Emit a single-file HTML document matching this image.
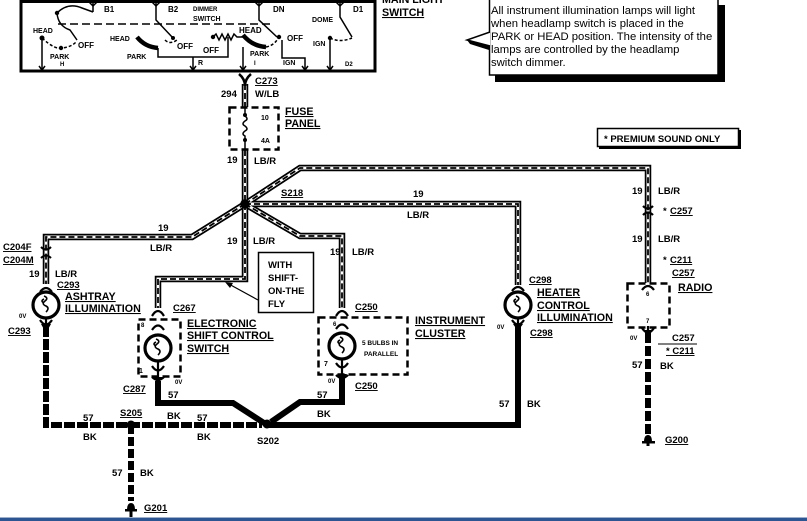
<!DOCTYPE html>
<html><head><meta charset="utf-8"><style>
html,body{margin:0;padding:0;background:#fff;width:807px;height:521px;overflow:hidden}
svg{display:block}
text{font-family:"Liberation Sans",Arial,sans-serif;font-weight:bold;fill:#000}
.u{text-decoration:underline}
.s{font-size:8px}
.t{font-size:6px}
.l{font-size:9.5px}
.c{font-size:10.7px}
.n{font-size:11.3px;font-weight:normal}
</style></head><body>
<svg width="807" height="521" viewBox="0 0 807 521" xmlns="http://www.w3.org/2000/svg">
<defs>
<path id="wA" d="M245 84 V107"/>
<path id="wB" d="M245 150 V204"/>
<path id="wC" d="M245 204 L300 168 H648 V283"/>
<path id="wD" d="M245 204 H518 V285"/>
<path id="wE" d="M245 204 L300 236 H342 V308"/>
<path id="wF" d="M245 204 V279 H158 V308"/>
<path id="wG" d="M245 204 L192 237 H46 V284"/>
</defs>
<rect x="0" y="0" width="807" height="521" fill="#fff"/>

<!-- MAIN LIGHT SWITCH box -->
<rect x="21" y="1.5" width="354" height="69.5" fill="none" stroke="#000" stroke-width="3"/>
<g fill="none" stroke="#000" stroke-width="1.5">
<path d="M58 24 H272" stroke-dasharray="8 4"/>
<path d="M57 13 Q68 2 82 8 L93 12 M93 3 V12"/>
<path d="M57 13 Q58 26 70 30 L77 40"/>
<path d="M42 38 Q55 50 62 48 Q72 47 77 41" stroke-dasharray="3 2"/>
<path d="M42 38 V70"/>
<path d="M156 3 V20 L173 38"/>
<path d="M165 40 Q170 45 177 40" stroke-dasharray="3 2"/>
<path d="M137 37 Q145 47 158 48" stroke-width="4.5"/>
<path d="M158 48 V57 H228 V37 M193 57 V70"/>
<path d="M213 37 l3 -3 l3 6 l3 -6 l3 6 l3 -6 l3 6 l3 -6 l3 3 L243 37"/>
<path d="M243 35 Q252 46 266 47" stroke-width="4.5"/>
<path d="M243 47 V70"/>
<path d="M259 3 V20 L277 37"/>
<path d="M266 47 Q275 45 278 38" stroke-dasharray="3 2"/>
<path d="M282 40 V58 H305 V70"/>
<path d="M340 3 V17 L352 37"/>
<path d="M330 38 Q340 43 352 38" stroke-dasharray="3 2"/>
<path d="M330 38 V70"/>
<path d="M89 2 L93 6 L97 2 M152 2 L156 6 L160 2 M255 2 L259 6 L263 2 M336 2 L340 6 L344 2"/>
<path d="M39 66 L42 70 L45 66 M190 66 L193 70 L196 66 M240 66 L243 70 L246 66 M302 66 L305 70 L308 66 M327 66 L330 70 L333 66"/>
</g>
<g fill="#000">
<circle cx="57" cy="13" r="2.2"/><circle cx="42" cy="38" r="2.5"/><circle cx="61" cy="48" r="2.2"/>
<circle cx="213" cy="37" r="2.2"/><circle cx="279" cy="37" r="2.2"/><circle cx="330" cy="38" r="2.2"/>
<circle cx="173" cy="38" r="2"/>
</g>
<text class="s" x="104" y="12">B1</text>
<text class="s" x="168" y="12">B2</text>
<text class="t" x="193" y="11">DIMMER</text>
<text class="s" x="193" y="21" style="font-size:7px">SWITCH</text>
<text class="s" x="273" y="12">DN</text>
<text class="s" x="353" y="12">D1</text>
<text class="s" x="312" y="22" style="font-size:7px">DOME</text>
<text class="s" x="33" y="33" style="font-size:7px">HEAD</text>
<text class="s" x="78" y="48">OFF</text>
<text class="s" x="50" y="59" style="font-size:7px">PARK</text>
<text class="t" x="60" y="66">H</text>
<text class="s" x="110" y="41" style="font-size:7px">HEAD</text>
<text class="s" x="127" y="59" style="font-size:7px">PARK</text>
<text class="s" x="177" y="49">OFF</text>
<text class="s" x="198" y="65" style="font-size:7px">R</text>
<text class="s" x="203" y="53">OFF</text>
<text class="s" x="239" y="33">HEAD</text>
<text class="s" x="250" y="56" style="font-size:7px">PARK</text>
<text class="t" x="254" y="65">I</text>
<text class="s" x="287" y="41">OFF</text>
<text class="s" x="283" y="65" style="font-size:7px">IGN</text>
<text class="s" x="313" y="46" style="font-size:7px">IGN</text>
<text class="t" x="345" y="66">D2</text>

<text class="c" x="382" y="3">MAIN LIGHT</text>
<text class="c u" x="382" y="16">SWITCH</text>

<!-- Note box -->
<rect x="718" y="5" width="7" height="77" fill="#000"/>
<rect x="495" y="75" width="230" height="7" fill="#000"/>
<rect x="489.5" y="-2" width="228.5" height="77" fill="#fff" stroke="#000" stroke-width="1.5"/>
<path d="M489 44 L467 40 L470 44 L489 50 Z" fill="#000"/>
<path d="M490 32 L467 40 L490 46" fill="#fff" stroke="#000" stroke-width="1.5"/>
<text class="n" x="491" y="14">All instrument illumination lamps will light</text>
<text class="n" x="491" y="27">when headlamp switch is placed in the</text>
<text class="n" x="491" y="40">PARK or HEAD position. The intensity of the</text>
<text class="n" x="491" y="53">lamps are controlled by the headlamp</text>
<text class="n" x="491" y="66">switch dimmer.</text>

<!-- Premium box -->
<rect x="599" y="130" width="142" height="19" fill="#000"/>
<rect x="597.5" y="128.5" width="141" height="18" fill="#fff" stroke="#000" stroke-width="1.5"/>
<text class="l" x="604" y="142">* PREMIUM SOUND ONLY</text>

<!-- Striped wires -->
<g fill="none" stroke="#000" stroke-width="6.5">
<use href="#wA"/><use href="#wB"/><use href="#wC"/><use href="#wD"/><use href="#wE"/><use href="#wF"/><use href="#wG"/>
</g>
<g fill="none" stroke="#fff" stroke-width="3">
<use href="#wA"/><use href="#wB"/><use href="#wC"/><use href="#wD"/><use href="#wE"/><use href="#wF"/><use href="#wG"/>
</g>
<g fill="none" stroke="#000" stroke-width="1.8" stroke-dasharray="6 3">
<use href="#wA"/><use href="#wB"/><use href="#wC"/><use href="#wD"/><use href="#wE"/><use href="#wF"/><use href="#wG"/>
</g>

<!-- Fuse panel -->
<rect x="229.5" y="107.5" width="49" height="42" fill="#fff" stroke="#000" stroke-width="2.5" stroke-dasharray="7 4"/>
<g fill="none" stroke="#000" stroke-width="1.5">
<path d="M245 108 V116 q4 3 0 5 q-4 3 0 5 q4 3 0 5 q-4 3 0 5 V149"/>
</g>
<circle cx="245" cy="115" r="2" fill="#000"/><circle cx="245" cy="140" r="2" fill="#000"/>
<text class="t" x="261" y="120" style="font-size:7px">10</text>
<text class="t" x="261" y="143" style="font-size:7px">4A</text>
<text class="c u" x="285" y="115">FUSE</text>
<text class="c u" x="285" y="127">PANEL</text>

<!-- C273 -->
<path d="M239 74 Q245 79 245 86 M251 74 Q245 79 245 86" fill="none" stroke="#000" stroke-width="2.5"/>
<text class="l u" x="255" y="84">C273</text>
<text class="l" x="221" y="97">294</text>
<text class="l" x="255" y="97">W/LB</text>
<text class="l" x="227" y="163">19</text>
<text class="l" x="254" y="164">LB/R</text>

<!-- S218 -->
<circle cx="245" cy="204" r="4.8" fill="#000"/>
<text class="l u" x="281" y="196">S218</text>
<text class="l" x="413" y="197">19</text>
<text class="l" x="407" y="218">LB/R</text>
<text class="l" x="227" y="244">19</text>
<text class="l" x="253" y="244">LB/R</text>
<text class="l" x="158" y="231">19</text>
<text class="l" x="150" y="251">LB/R</text>
<text class="l" x="330" y="255">19</text>
<text class="l" x="352" y="255">LB/R</text>

<!-- WITH SHIFT box -->
<rect x="258.5" y="252.5" width="55" height="60" fill="#fff" stroke="#000" stroke-width="1.5"/>
<path d="M258 300 L227 283" stroke="#000" stroke-width="1.2" fill="none"/>
<path d="M225 282 L233 283 L230 288 Z" fill="#000"/>
<text class="l" x="268" y="268">WITH</text>
<text class="l" x="268" y="281">SHIFT-</text>
<text class="l" x="268" y="294">ON-THE</text>
<text class="l" x="268" y="307">FLY</text>

<!-- Ashtray -->
<path d="M41 247 Q46 252 51 247 M41 258 Q46 253 51 258" fill="none" stroke="#000" stroke-width="2"/>
<text class="l u" x="3" y="250">C204F</text>
<text class="l u" x="3" y="263">C204M</text>
<text class="l" x="29" y="277">19</text>
<text class="l" x="55" y="277">LB/R</text>
<text class="l u" x="57" y="288">C293</text>
<text class="c u" x="65" y="300">ASHTRAY</text>
<text class="c u" x="65" y="312">ILLUMINATION</text>
<text class="t" x="19" y="318">0V</text>
<text class="l u" x="8" y="334">C293</text>

<!-- Ground wires -->
<g fill="none" stroke="#000" stroke-width="6">
<path d="M46 326 V425 H262" stroke-dasharray="11 2"/>
<path d="M131 425 V501" stroke-dasharray="9 3"/>
<path d="M648 333 V435" stroke-dasharray="10 3"/>
<path d="M158 381 V403 H233 L264 423"/>
<path d="M342 378 V402 H300 L271 422"/>
<path d="M268 425 H518 V324"/>
</g>

<!-- lamps -->
<g fill="#fff" stroke="#000" stroke-width="3.2">
<circle cx="46" cy="305" r="13"/>
<circle cx="158" cy="348" r="13"/>
<circle cx="342" cy="346" r="13"/>
<circle cx="518" cy="305" r="13"/>
</g>
<g fill="none" stroke="#000" stroke-width="1.6">
<path d="M44 296 q5 2 1 5 q-4 3 1 5 q4 2 0 6"/><path d="M44 299 q-4 2 0 4"/>
<path d="M156 339 q5 2 1 5 q-4 3 1 5 q4 2 0 6"/><path d="M156 342 q-4 2 0 4"/>
<path d="M340 337 q5 2 1 5 q-4 3 1 5 q4 2 0 6"/><path d="M340 340 q-4 2 0 4"/>
<path d="M516 296 q5 2 1 5 q-4 3 1 5 q4 2 0 6"/><path d="M516 299 q-4 2 0 4"/>
</g>
<g fill="none" stroke="#000" stroke-width="2.2">
<path d="M40 292 Q46 284 52 292"/>
<path d="M40 320 Q46 329 52 320 M46 318 V330"/>
<path d="M152 316 Q158 306 164 316"/>
<path d="M152 330 Q158 321 164 330"/>
<path d="M152 366 Q158 375 164 366 M158 362 V382"/>
<path d="M152 377 Q158 383 164 377"/>
<path d="M336 316 Q342 306 348 316"/>
<path d="M336 329 Q342 320 348 329"/>
<path d="M336 363 Q342 372 348 363 M342 360 V380"/>
<path d="M336 375 Q342 381 348 375"/>
<path d="M512 291 Q518 283 524 291"/>
<path d="M512 320 Q518 329 524 320 M518 318 V330"/>
<path d="M643 206 Q648 211 653 206 M643 215 Q648 210 653 215"/>
<path d="M642 290 Q648 282 654 290"/>
<path d="M642 328 Q648 337 654 328 M648 326 V338"/>
</g>
<path d="M41 324 L46 333 L51 324 Z M153 377 L158 384 L163 377 Z M337 374 L342 381 L347 374 Z M513 324 L518 331 L523 324 Z M643 330 L648 337 L653 330 Z" fill="#000"/>

<!-- Shift control dashed box -->
<rect x="138.5" y="319.5" width="42" height="57" fill="none" stroke="#000" stroke-width="2.5" stroke-dasharray="7 4"/>
<text class="t" x="141" y="327">8</text>
<text class="t" x="139" y="373" style="font-size:7px">1</text>
<text class="l u" x="173" y="311">C267</text>
<text class="c u" x="187" y="327">ELECTRONIC</text>
<text class="c u" x="187" y="339">SHIFT CONTROL</text>
<text class="c u" x="187" y="352">SWITCH</text>
<text class="t" x="175" y="384">0V</text>
<text class="l u" x="123" y="392">C287</text>
<text class="l" x="168" y="398">57</text>
<text class="l" x="167" y="419">BK</text>

<!-- Instrument cluster -->
<rect x="318.5" y="317.5" width="89" height="57" fill="none" stroke="#000" stroke-width="2.5" stroke-dasharray="7 4"/>
<text class="t" x="333" y="326">6</text>
<text class="t" x="324" y="366" style="font-size:7px">7</text>
<text class="t" x="362" y="345" style="font-size:6.5px">5 BULBS IN</text>
<text class="t" x="364" y="356" style="font-size:6.5px">PARALLEL</text>
<text class="l u" x="355" y="310">C250</text>
<text class="c u" x="415" y="324">INSTRUMENT</text>
<text class="c u" x="415" y="337">CLUSTER</text>
<text class="t" x="328" y="383">0V</text>
<text class="l u" x="355" y="389">C250</text>
<text class="l" x="317" y="398">57</text>
<text class="l" x="317" y="417">BK</text>

<!-- Heater -->
<text class="l u" x="529" y="283">C298</text>
<text class="c u" x="537" y="296">HEATER</text>
<text class="c u" x="537" y="309">CONTROL</text>
<text class="c u" x="537" y="321">ILLUMINATION</text>
<text class="t" x="497" y="329">0V</text>
<text class="l u" x="530" y="336">C298</text>
<text class="l" x="499" y="407">57</text>
<text class="l" x="527" y="407">BK</text>

<!-- splices -->
<circle cx="131" cy="425" r="4.5" fill="#000"/>
<circle cx="267" cy="424" r="4.5" fill="#000"/>
<text class="l u" x="120" y="416">S205</text>
<text class="l" x="83" y="421">57</text>
<text class="l" x="83" y="440">BK</text>
<text class="l" x="197" y="421">57</text>
<text class="l" x="197" y="440">BK</text>
<text class="l" x="257" y="444">S202</text>
<text class="l" x="112" y="476">57</text>
<text class="l" x="140" y="476">BK</text>

<!-- G201 -->
<path d="M127 510 Q127 503 131 503 Q135 503 135 510 Z" fill="#000"/>
<rect x="125" y="509" width="12" height="2.5" fill="#000"/>
<rect x="129.5" y="511" width="3" height="6" fill="#000"/>
<text class="l u" x="144" y="511">G201</text>

<!-- Radio -->
<text class="l" x="632" y="194">19</text>
<text class="l" x="658" y="194">LB/R</text>
<text class="l" x="663" y="214">*</text>
<text class="l u" x="670" y="214">C257</text>
<text class="l" x="632" y="242">19</text>
<text class="l" x="658" y="242">LB/R</text>
<text class="l" x="663" y="263">*</text>
<text class="l u" x="670" y="263">C211</text>
<text class="l u" x="672" y="276">C257</text>
<text class="c u" x="678" y="291">RADIO</text>
<rect x="627.5" y="283.5" width="42" height="44" fill="none" stroke="#000" stroke-width="2.5" stroke-dasharray="7 4"/>
<text class="t" x="646" y="296">6</text>
<text class="t" x="646" y="323">7</text>
<text class="t" x="630" y="340">0V</text>
<text class="l" x="672" y="341">C257</text>
<path d="M658 344 H697" stroke="#000" stroke-width="1"/>
<text class="l u" x="666" y="354">* C211</text>
<text class="l" x="632" y="368">57</text>
<text class="l" x="660" y="369">BK</text>
<path d="M644 442 Q644 435 648 435 Q652 435 652 442 Z" fill="#000"/>
<rect x="642" y="441" width="13" height="2.5" fill="#000"/>
<rect x="646.5" y="443" width="3" height="3" fill="#000"/>
<text class="l u" x="665" y="443">G200</text>

<!-- bottom blue strip -->
<rect x="0" y="518" width="807" height="3" fill="#2d5591"/>
<rect x="0" y="517" width="807" height="1" fill="#9fb0cc"/>
</svg>
</body></html>
